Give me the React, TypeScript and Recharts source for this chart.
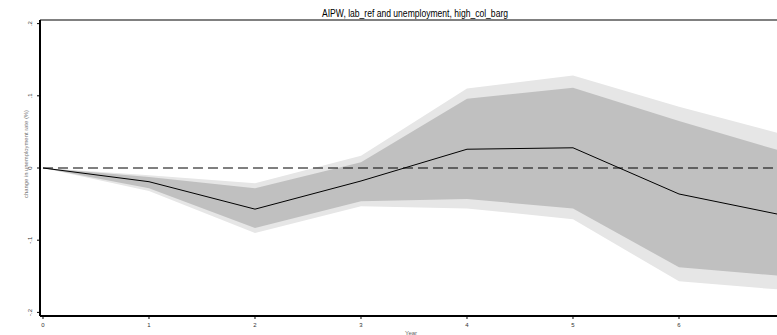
import { ComposedChart, Area, Line, XAxis, YAxis, ReferenceLine } from "recharts";

// horizon (years after treatment) and the AIPW point estimate
const years = [0, 1, 2, 3, 4, 5, 6, 7];
const effect = [0, -0.019, -0.057, -0.018, 0.026, 0.028, -0.036, -0.066];

// inner (dark) confidence band
const innerLow = [0, -0.028, -0.083, -0.046, -0.043, -0.056, -0.1375, -0.15];
const innerHigh = [0, -0.0125, -0.028, 0.008, 0.096, 0.111, 0.065, 0.022];

// outer (light) confidence band
const outerLow = [0, -0.032, -0.09, -0.053, -0.056, -0.071, -0.157, -0.169];
const outerHigh = [0, -0.01, -0.021, 0.017, 0.11, 0.128, 0.085, 0.046];

const xTicks = [0, 1, 2, 3, 4, 5, 6];
const yTicks = [-0.2, -0.1, 0, 0.1, 0.2];

const data = years.map((year, i) => ({
  year,
  effect: effect[i],
  inner: [innerLow[i], innerHigh[i]],
  outer: [outerLow[i], outerHigh[i]],
}));

const fmt = (v: number) => {
  if (v === 0) return "0";
  const s = String(Math.abs(v)).replace(/^0/, "");
  return v < 0 ? "-" + s : s;
};

const font = "'Liberation Sans', Arial, sans-serif";

const YTick = ({ x, y, payload }: any) => (
  <text
    transform={`translate(${x - 3},${y}) rotate(-90)`}
    textAnchor="middle"
    fontSize={6}
    fontFamily={font}
    fill="#333"
  >
    {fmt(payload.value)}
  </text>
);

const XTick = ({ x, y, payload }: any) => (
  <text x={x} y={y + 6} textAnchor="middle" fontSize={6} fontFamily={font} fill="#333">
    {payload.value}
  </text>
);

export default function App() {
  return (
    <div
      style={{
        position: "absolute",
        left: 0,
        top: 0,
        width: 777,
        height: 335,
        overflow: "hidden",
        background: "#fff",
      }}
    >
      <ComposedChart
        width={800}
        height={335}
        data={data}
        margin={{ top: 20, right: 15, left: 0, bottom: 0 }}
      >
        <XAxis
          dataKey="year"
          type="number"
          domain={[-0.0283, 7]}
          ticks={xTicks}
          tick={<XTick />}
          tickSize={3}
          tickLine={{ stroke: "#000", strokeWidth: 1 }}
          axisLine={{ stroke: "#000", strokeWidth: 2 }}
          height={19}
          allowDataOverflow
        />
        <YAxis
          type="number"
          domain={[-0.205, 0.205]}
          ticks={yTicks}
          tick={<YTick />}
          tickSize={3}
          tickLine={{ stroke: "#000", strokeWidth: 1 }}
          axisLine={{ stroke: "#000", strokeWidth: 2 }}
          width={40}
          allowDataOverflow
        />
        <ReferenceLine y={0.205} stroke="#808080" strokeWidth={2} />
        <Area
          dataKey="outer"
          type="linear"
          stroke="none"
          fill="#e6e6e6"
          fillOpacity={1}
          isAnimationActive={false}
        />
        <Area
          dataKey="inner"
          type="linear"
          stroke="none"
          fill="#c0c0c0"
          fillOpacity={1}
          isAnimationActive={false}
        />
        <ReferenceLine
          segment={[{ x: 0, y: 0 }, { x: 7, y: 0 }]}
          stroke="#000"
          strokeWidth={1}
          strokeDasharray="10 5"
        />
        <Line
          dataKey="effect"
          type="linear"
          stroke="#000"
          strokeWidth={1}
          dot={false}
          isAnimationActive={false}
        />
      </ComposedChart>
      <svg
        width={777}
        height={335}
        style={{ position: "absolute", left: 0, top: 0, pointerEvents: "none" }}
      >
        <text
          x={415}
          y={17}
          textAnchor="middle"
          fontSize={10}
          fontFamily={font}
          fill="#000"
          textLength={186}
          lengthAdjust="spacingAndGlyphs"
        >
          AIPW, lab_ref and unemployment, high_col_barg
        </text>
        <text
          transform="translate(28,154) rotate(-90)"
          textAnchor="middle"
          fontSize={6}
          fontFamily={font}
          fill="#777"
          textLength={88}
          lengthAdjust="spacingAndGlyphs"
        >
          change in unemployment rate (%)
        </text>
        <text x={411} y={334.5} textAnchor="middle" fontSize={6} fontFamily={font} fill="#666">
          Year
        </text>
      </svg>
    </div>
  );
}
